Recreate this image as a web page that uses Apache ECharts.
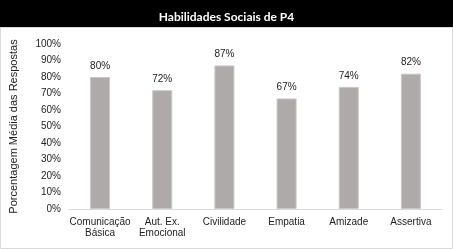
<!DOCTYPE html>
<html lang="pt-BR">
<head>
    <meta charset="UTF-8">
    <title>Habilidades Sociais de P4</title>
    <script src="https://cdn.jsdelivr.net/npm/echarts@6/dist/echarts.min.js"></script>
    <style>
        html, body { margin: 0; padding: 0; background: #fff; }
    </style>
</head>
<body>
    <div id="chart" style="width:453px;height:249px"></div>
<script>
    // dados
    let categorias = ['Comunicação\nBásica', 'Aut. Ex.\nEmocional', 'Civilidade', 'Empatia', 'Amizade', 'Assertiva'];
    let valores = [80, 72, 87, 67, 74, 82];
    let ticksY = [0, 10, 20, 30, 40, 50, 60, 70, 80, 90, 100];

    let myChart = echarts.init(document.getElementById('chart'));
    let option = {
      animation: false,
      textStyle: { fontFamily: 'Liberation Sans, Arial, sans-serif' },
      graphic: [
        {
          type: 'rect',
          shape: { x: 0, y: 0, width: 453, height: 27 },
          style: { fill: '#000' },
          z: 0
        },
        {
          type: 'rect',
          shape: { x: 0.5, y: 27.5, width: 452, height: 221 },
          style: { fill: 'none', stroke: '#d9d9d9', lineWidth: 1 },
          z: 0
        }
      ],
      title: {
        text: 'Habilidades Sociais de P4',
        left: 'center',
        top: 6,
        textStyle: { color: '#fff', fontSize: 12, fontWeight: 'bold', fontFamily: 'Lato, sans-serif' }
      },
      grid: { left: 61, right: 11, top: 44, bottom: 40 },
      xAxis: {
        type: 'category',
        data: categorias,
        axisLine: { lineStyle: { color: '#d9d9d9' } },
        axisTick: { show: false },
        axisLabel: { color: '#222', fontSize: 10, interval: 0, margin: 8, lineHeight: 11 }
      },
      yAxis: {
        type: 'value',
        min: ticksY[0],
        max: ticksY[ticksY.length - 1],
        interval: 10,
        name: 'Porcentagem Média das Respostas',
        nameLocation: 'middle',
        nameGap: 50,
        nameTextStyle: { color: '#222', fontSize: 11 },
        splitLine: { show: false },
        axisLine: { show: false },
        axisLabel: { color: '#222', fontSize: 10, margin: 8, formatter: '{value}%' }
      },
      series: [
        {
          type: 'bar',
          data: valores,
          barWidth: 20,
          itemStyle: { color: '#aeaaaa', borderColor: '#c9c6c6', borderWidth: 1 },
          label: {
            show: true,
            position: 'top',
            distance: 6,
            color: '#222',
            fontSize: 10,
            formatter: '{c}%'
          }
        }
      ]
    };
    myChart.setOption(option);
</script>
</body>
</html>
